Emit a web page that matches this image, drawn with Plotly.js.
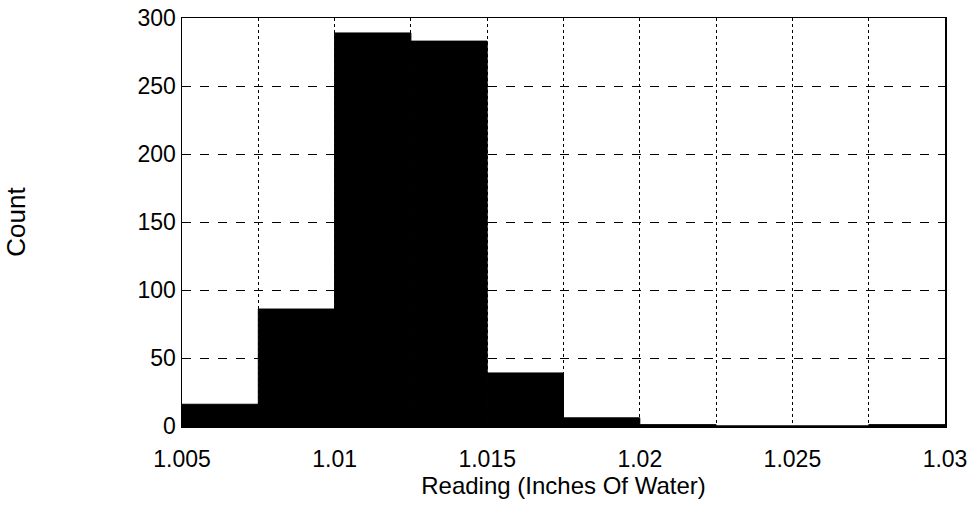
<!DOCTYPE html>
<html>
<head>
<meta charset="utf-8">
<script src="https://cdn.plot.ly/plotly-3.0.1.min.js"></script>
<style>html,body{margin:0;padding:0;background:#fff;}#chart{width:971px;height:506px;}</style>
</head>
<body>
<div id="chart"></div>
<script>
const binStart = [1.005, 1.0075, 1.01, 1.0125, 1.015, 1.0175, 1.02, 1.0225, 1.025, 1.0275];
const binWidth = 0.0025;
const counts = [16, 86, 289, 283, 39, 6, 1, 0, 0, 1];
const xTickVals = [1.005, 1.0075, 1.01, 1.0125, 1.015, 1.0175, 1.02, 1.0225, 1.025, 1.0275, 1.03];
const xTickText = ['1.005', '', '1.01', '', '1.015', '', '1.02', '', '1.025', '', '1.03'];
const yTickVals = [0, 50, 100, 150, 200, 250, 300];

const centers = binStart.map(s => s + binWidth / 2);

const trace = {
  type: 'bar',
  x: centers,
  y: counts,
  width: binStart.map(() => binWidth),
  marker: {color: '#000', line: {color: '#000', width: 1}},
  hoverinfo: 'skip'
};

const font = {family: 'Liberation Sans, Arial, sans-serif', color: '#000'};

const layout = {
  width: 971, height: 506,
  margin: {l: 182, r: 26, t: 18, b: 80},
  paper_bgcolor: '#fff', plot_bgcolor: '#fff',
  showlegend: false,
  bargap: 0,
  font: Object.assign({size: 21}, font),
  xaxis: {
    range: [1.005, 1.03],
    tickmode: 'array', tickvals: xTickVals, ticktext: xTickText,
    showgrid: true, gridcolor: '#000', gridwidth: 1, griddash: 'dot',
    showline: true, linecolor: '#000', linewidth: 1.5, mirror: true,
    ticks: '', zeroline: false,
    ticklabelstandoff: 12,
    tickfont: Object.assign({size: 23}, font),
    title: {text: 'Reading (Inches Of Water)', font: Object.assign({size: 24}, font), standoff: 0}
  },
  yaxis: {
    range: [0, 300],
    tickmode: 'array', tickvals: yTickVals,
    showgrid: true, gridcolor: '#000', gridwidth: 1, griddash: 'dash',
    showline: true, linecolor: '#000', linewidth: 1.5, mirror: true,
    ticks: '', zeroline: false,
    tickfont: Object.assign({size: 23}, font),
    title: {text: 'Count', font: Object.assign({size: 26}, font), standoff: 104}
  }
};

Plotly.newPlot('chart', [trace], layout, {displayModeBar: false, staticPlot: true});
</script>
</body>
</html>
